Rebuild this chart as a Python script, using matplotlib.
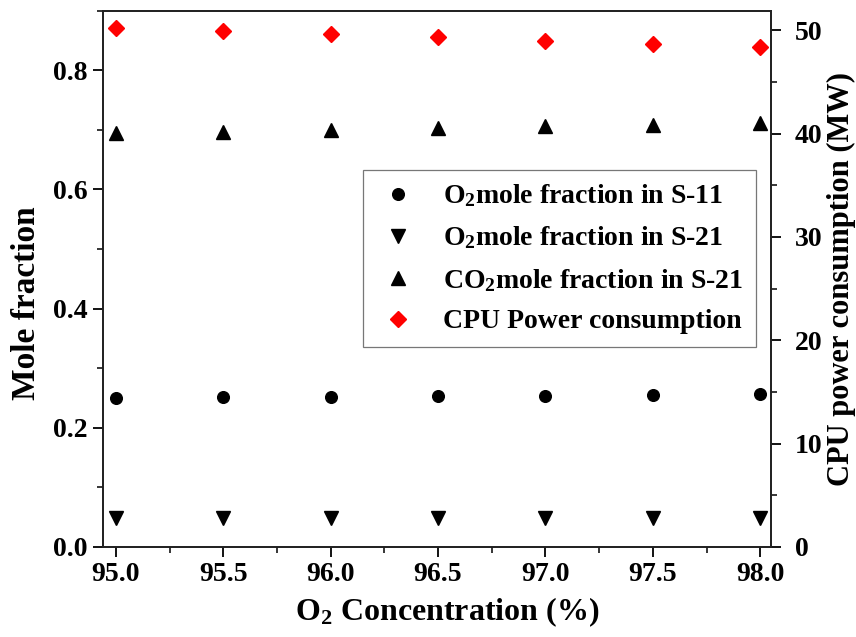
import matplotlib
matplotlib.use("Agg")
import matplotlib.pyplot as plt
from matplotlib.ticker import MultipleLocator, FormatStrFormatter

plt.rcParams["font.family"] = ["Liberation Serif", "DejaVu Serif"]
plt.rcParams["font.weight"] = "bold"
plt.rcParams["mathtext.default"] = "regular"

# O2 purity of the oxygen stream (%)
o2_conc = [95.0, 95.5, 96.0, 96.5, 97.0, 97.5, 98.0]

# Mole fractions (left axis)
o2_s11 = [0.250, 0.251, 0.252, 0.253, 0.254, 0.255, 0.257]
o2_s21 = [0.048, 0.048, 0.049, 0.049, 0.049, 0.049, 0.049]
co2_s21 = [0.695, 0.697, 0.700, 0.703, 0.706, 0.709, 0.712]

# CPU power consumption in MW (right axis)
cpu_power = [50.2, 49.95, 49.65, 49.35, 49.0, 48.7, 48.4]

fig = plt.figure(figsize=(8.56, 6.37), dpi=100)
ax = fig.add_axes([0.1203, 0.1413, 0.7804, 0.8419])
ax2 = ax.twinx()

h1, = ax.plot(o2_conc, o2_s11, linestyle="none", marker="o", ms=8.4,
              color="black", label="O$_2$mole fraction in S-11")
h2, = ax.plot(o2_conc, o2_s21, linestyle="none", marker="v", ms=10,
              color="black", label="O$_2$mole fraction in S-21")
h3, = ax.plot(o2_conc, co2_s21, linestyle="none", marker="^", ms=10,
              color="black", label="CO$_2$mole fraction in S-21")
h4, = ax2.plot(o2_conc, cpu_power, linestyle="none", marker="D", ms=8.3,
               color="#ff0000", label="CPU Power consumption")

ax.set_xlim(94.94, 98.05)
ax.set_ylim(0, 0.9)
ax2.set_ylim(0, 51.9)

ax.xaxis.set_major_locator(MultipleLocator(0.5))
ax.xaxis.set_minor_locator(MultipleLocator(0.25))
ax.xaxis.set_major_formatter(FormatStrFormatter("%.1f"))
ax.yaxis.set_major_locator(MultipleLocator(0.2))
ax.yaxis.set_minor_locator(MultipleLocator(0.1))
ax.yaxis.set_major_formatter(FormatStrFormatter("%.1f"))
ax2.yaxis.set_major_locator(MultipleLocator(10))
ax2.yaxis.set_minor_locator(MultipleLocator(5))

for a in (ax, ax2):
    for sp in a.spines.values():
        sp.set_linewidth(1.3)
        sp.set_color("#222222")
    a.tick_params(which="major", direction="out", length=7, width=1.3,
                  labelsize=20, pad=4)
    a.tick_params(which="minor", direction="out", length=4, width=1.1)
ax.tick_params(axis="both", which="both", top=False, right=False)
ax2.tick_params(axis="y", which="major", pad=10)
for lbl in ax.get_xticklabels() + ax.get_yticklabels() + ax2.get_yticklabels():
    lbl.set_fontweight("bold")

ax.set_xlabel("O$_2$ Concentration (%)", fontsize=23, fontweight="bold")
ax.xaxis.set_label_coords(0.515, -0.09)
ax.set_ylabel("Mole fraction", fontsize=24, fontweight="bold")
ax.yaxis.set_label_coords(-0.091, 0.455)
ax2.set_ylabel("CPU power consumption (MW)", fontsize=22, fontweight="bold")
ax2.yaxis.set_label_coords(1.083, 0.5)

leg = ax.legend(handles=[h1, h2, h3, h4], loc="upper left",
                bbox_to_anchor=(0.389, 0.703), frameon=True,
                fancybox=False, shadow=False, handletextpad=0.81,
                borderpad=0.45, labelspacing=0.55, handlelength=1.62,
                borderaxespad=0.0,
                prop={"weight": "bold", "size": 20})
leg.get_frame().set_edgecolor("#555555")
leg.get_frame().set_linewidth(0.9)
ax.set_zorder(ax2.get_zorder() + 1)
ax.patch.set_visible(False)

fig.savefig("out.png", dpi=100)
